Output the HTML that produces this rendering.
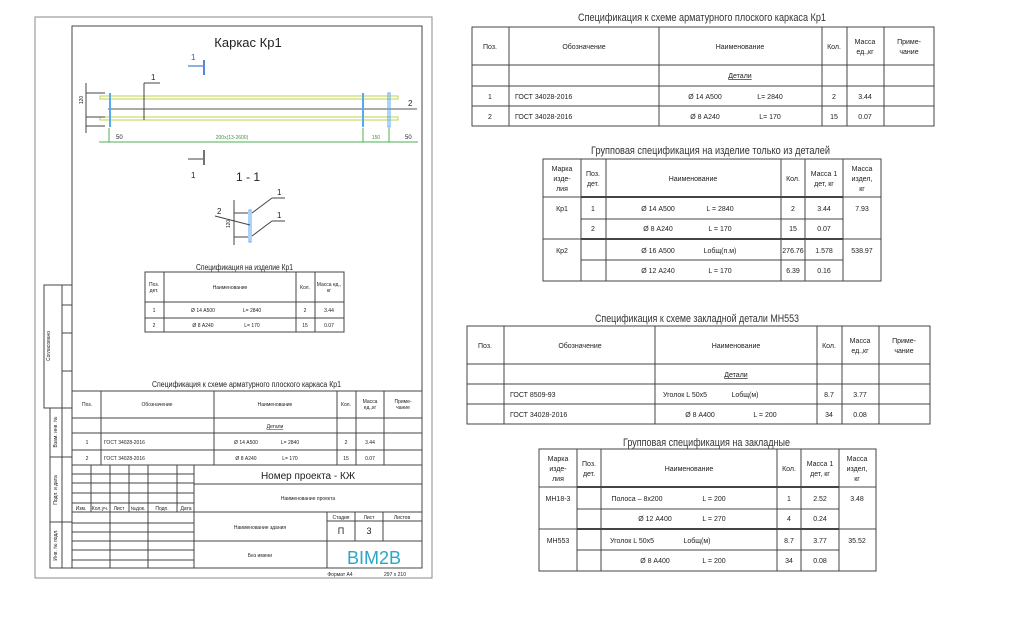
<!DOCTYPE html>
<html><head><meta charset="utf-8"><style>
html,body{margin:0;padding:0;background:#fff;}
svg{display:block;}
text{font-family:"Liberation Sans",sans-serif;fill:#222;}
.t{font-size:7px;text-anchor:middle;}
.s{font-size:5px;text-anchor:middle;}
.l{font-size:7px;}
.h{font-size:11px;text-anchor:middle;fill:#333;}
line,rect{stroke:#444;stroke-width:1;fill:none;}
.g{stroke:#8a8a8a;}
</style></head><body>
<svg width="1024" height="621" viewBox="0 0 1024 621">
<!-- sheet -->
<rect x="35" y="17" width="397" height="561" class="g"/>
<rect x="72" y="26" width="350" height="542"/>
<text x="248" y="47" style="font-size:13px;text-anchor:middle">Каркас Кр1</text>
<!-- section marks -->
<line x1="204" y1="60" x2="204" y2="75" style="stroke:#1a5fd0;stroke-width:1.5"/>
<line x1="188" y1="66" x2="203" y2="66" style="stroke:#1a5fd0"/>
<text x="191" y="60" style="font-size:8px;fill:#1a5fd0">1</text>
<line x1="204" y1="150" x2="204" y2="165" style="stroke-width:1.5"/>
<line x1="188" y1="159" x2="203" y2="159"/>
<text x="191" y="178" style="font-size:8px">1</text>
<!-- bars -->
<rect x="100" y="96" width="298" height="3" style="stroke:#b8d44a"/>
<rect x="100" y="117" width="298" height="3" style="stroke:#b8d44a"/>
<line x1="108" y1="109" x2="417" y2="109" style="stroke:#555"/>
<line x1="110" y1="93" x2="110" y2="127" style="stroke:#5aa8f0;stroke-width:2"/>
<line x1="363" y1="93" x2="363" y2="127" style="stroke:#5aa8f0;stroke-width:2"/>
<rect x="388" y="93" width="2" height="34" style="stroke:#5aa8f0"/>
<line x1="144" y1="83" x2="144" y2="120"/>
<line x1="144" y1="83" x2="160" y2="83"/>
<text x="151" y="80" style="font-size:8px">1</text>
<text x="408" y="106" style="font-size:8px">2</text>
<line x1="99" y1="142" x2="418" y2="142" style="stroke:#4caf50"/>
<line x1="109" y1="128" x2="109" y2="142" style="stroke:#4caf50"/>
<line x1="363" y1="128" x2="363" y2="142" style="stroke:#4caf50"/>
<line x1="389" y1="128" x2="389" y2="142" style="stroke:#4caf50"/>
<text x="116" y="139" style="font-size:6px">50</text>
<text x="232" y="139" style="font-size:5px;fill:#3a9a3a;text-anchor:middle">200х(13-2600)</text>
<text x="376" y="139" style="font-size:5px;fill:#3a9a3a;text-anchor:middle">150</text>
<text x="405" y="139" style="font-size:6px">50</text>
<line x1="86" y1="83" x2="86" y2="133"/>
<text x="83" y="100" class="s" transform="rotate(-90 83 100)">120</text>
<line x1="86" y1="93" x2="105" y2="93"/><line x1="86" y1="117" x2="105" y2="117"/><line x1="86" y1="126" x2="105" y2="126"/>
<text x="248" y="181" style="font-size:12px;text-anchor:middle">1 - 1</text>
<!-- section detail -->
<rect x="249" y="210" width="2" height="32" style="stroke:#5aa8f0"/>
<line x1="234" y1="200" x2="234" y2="245"/>
<line x1="234" y1="213" x2="248" y2="213"/><line x1="234" y1="237" x2="248" y2="237"/>
<line x1="252" y1="213" x2="272" y2="198"/><line x1="272" y1="198" x2="285" y2="198"/>
<line x1="252" y1="236" x2="272" y2="221"/><line x1="272" y1="221" x2="285" y2="221"/>
<line x1="215" y1="216" x2="250" y2="225"/>
<text x="277" y="195" style="font-size:8px">1</text><text x="277" y="218" style="font-size:8px">1</text><text x="217" y="214" style="font-size:8px">2</text>
<text x="230" y="224" class="s" transform="rotate(-90 230 224)">120</text>
<!-- spec Kp1 small -->
<text x="196" y="270" style="font-size:8px" textLength="97" lengthAdjust="spacingAndGlyphs">Спецификация на изделие Кр1</text>
<rect x="145" y="272" width="199" height="60"/>
<line x1="145" y1="302" x2="344" y2="302"/><line x1="145" y1="318" x2="344" y2="318"/>
<line x1="164" y1="272" x2="164" y2="332"/><line x1="296" y1="272" x2="296" y2="332"/><line x1="315" y1="272" x2="315" y2="332"/>
<text x="154" y="286" class="s">Поз.</text><text x="154" y="292" class="s">дет.</text>
<text x="230" y="289" class="s">Наименование</text><text x="305" y="289" class="s">Кол.</text>
<text x="329" y="286" class="s">Масса ед.,</text><text x="329" y="292" class="s">кг</text>
<text x="154" y="312" class="s">1</text><text x="203" y="312" class="s">Ø 14 А500</text><text x="252" y="312" class="s">L= 2840</text><text x="305" y="312" class="s">2</text><text x="329" y="312" class="s">3.44</text>
<text x="154" y="327" class="s">2</text><text x="203" y="327" class="s">Ø 8 А240</text><text x="252" y="327" class="s">L= 170</text><text x="305" y="327" class="s">15</text><text x="329" y="327" class="s">0.07</text>
<!-- bottom spec -->
<text x="152" y="387" style="font-size:8px" textLength="189" lengthAdjust="spacingAndGlyphs">Спецификация к схеме арматурного плоского каркаса Кр1</text>
<rect x="72" y="391" width="350" height="74"/>
<line x1="72" y1="418" x2="422" y2="418"/><line x1="72" y1="433" x2="422" y2="433"/><line x1="72" y1="450" x2="422" y2="450"/>
<line x1="101" y1="391" x2="101" y2="465"/><line x1="214" y1="391" x2="214" y2="465"/><line x1="337" y1="391" x2="337" y2="465"/><line x1="356" y1="391" x2="356" y2="465"/><line x1="384" y1="391" x2="384" y2="465"/>
<text x="87" y="406" class="s">Поз.</text><text x="157" y="406" class="s">Обозначение</text><text x="275" y="406" class="s">Наименование</text><text x="346" y="406" class="s">Кол.</text><text x="370" y="403" class="s">Масса</text><text x="370" y="409" class="s">ед.,кг</text><text x="403" y="403" class="s">Приме-</text><text x="403" y="409" class="s">чание</text>
<text x="275" y="428" class="s" style="text-decoration:underline">Детали</text>
<text x="87" y="444" class="s">1</text><text x="104" y="444" style="font-size:5px">ГОСТ 34028-2016</text><text x="246" y="444" class="s">Ø 14 А500</text><text x="290" y="444" class="s">L= 2840</text><text x="346" y="444" class="s">2</text><text x="370" y="444" class="s">3.44</text>
<text x="87" y="460" class="s">2</text><text x="104" y="460" style="font-size:5px">ГОСТ 34028-2016</text><text x="246" y="460" class="s">Ø 8 А240</text><text x="290" y="460" class="s">L= 170</text><text x="346" y="460" class="s">15</text><text x="370" y="460" class="s">0.07</text>
<!-- title block -->
<line x1="72" y1="465" x2="422" y2="465"/>
<line x1="91" y1="465" x2="91" y2="512"/><line x1="110" y1="465" x2="110" y2="568"/><line x1="129" y1="465" x2="129" y2="512"/><line x1="148" y1="465" x2="148" y2="568"/><line x1="177" y1="465" x2="177" y2="512"/><line x1="194" y1="465" x2="194" y2="568"/>
<line x1="72" y1="474" x2="194" y2="474"/><line x1="72" y1="483" x2="194" y2="483"/><line x1="72" y1="493" x2="194" y2="493"/><line x1="72" y1="503" x2="194" y2="503"/><line x1="72" y1="512" x2="422" y2="512"/><line x1="72" y1="523" x2="194" y2="523"/><line x1="72" y1="532" x2="194" y2="532"/><line x1="72" y1="541" x2="422" y2="541"/><line x1="72" y1="550" x2="194" y2="550"/><line x1="72" y1="560" x2="194" y2="560"/>
<line x1="194" y1="484" x2="422" y2="484"/>
<line x1="327" y1="512" x2="327" y2="568"/><line x1="355" y1="512" x2="355" y2="541"/><line x1="383" y1="512" x2="383" y2="541"/><line x1="327" y1="521" x2="422" y2="521"/>
<text x="81" y="510" class="s">Изм.</text><text x="100" y="510" class="s">Кол.уч.</text><text x="119" y="510" class="s">Лист</text><text x="138" y="510" class="s">№док.</text><text x="162" y="510" class="s">Подп.</text><text x="186" y="510" class="s">Дата</text>
<text x="308" y="479" style="font-size:10px;text-anchor:middle">Номер проекта - КЖ</text>
<text x="308" y="500" class="s">Наименование проекта</text>
<text x="260" y="529" class="s">Наименование здания</text>
<text x="260" y="557" class="s">Без имени</text>
<text x="341" y="519" class="s">Стадия</text><text x="369" y="519" class="s">Лист</text><text x="402" y="519" class="s">Листов</text>
<text x="341" y="534" style="font-size:9px;text-anchor:middle">П</text><text x="369" y="534" style="font-size:9px;text-anchor:middle">3</text>
<text x="374" y="564" style="font-size:18px;text-anchor:middle;fill:#2aa6c8">BIM2B</text>
<text x="340" y="576" class="s">Формат А4</text><text x="395" y="576" class="s">297 x 210</text>
<!-- left strips -->
<rect x="44" y="285" width="28" height="123"/>
<line x1="62" y1="285" x2="62" y2="408"/>
<line x1="62" y1="305" x2="72" y2="305"/><line x1="62" y1="333" x2="72" y2="333"/><line x1="62" y1="371" x2="72" y2="371"/>
<text x="50" y="346" class="s" transform="rotate(-90 50 346)">Согласовано</text>
<rect x="50" y="408" width="22" height="160"/>
<line x1="62" y1="408" x2="62" y2="568"/>
<line x1="50" y1="457" x2="72" y2="457"/><line x1="50" y1="522" x2="72" y2="522"/>
<text x="57" y="432" class="s" transform="rotate(-90 57 432)">Взам. инв. №</text>
<text x="57" y="490" class="s" transform="rotate(-90 57 490)">Подп. и дата</text>
<text x="57" y="545" class="s" transform="rotate(-90 57 545)">Инв. № подл.</text>

<!-- Table A -->
<text x="578" y="21" style="font-size:11px;fill:#333" textLength="248" lengthAdjust="spacingAndGlyphs">Спецификация к схеме арматурного плоского каркаса Кр1</text>
<rect x="472" y="27" width="462" height="99"/>
<line x1="472" y1="65" x2="934" y2="65"/><line x1="472" y1="86" x2="934" y2="86"/><line x1="472" y1="106" x2="934" y2="106"/>
<line x1="509" y1="27" x2="509" y2="126"/><line x1="659" y1="27" x2="659" y2="126"/><line x1="822" y1="27" x2="822" y2="126"/><line x1="847" y1="27" x2="847" y2="126"/><line x1="884" y1="27" x2="884" y2="126"/>
<text x="490" y="49" class="t">Поз.</text><text x="584" y="49" class="t">Обозначение</text><text x="740" y="49" class="t">Наименование</text><text x="834" y="49" class="t">Кол.</text><text x="865" y="44" class="t">Масса</text><text x="865" y="54" class="t">ед.,кг</text><text x="909" y="44" class="t">Приме-</text><text x="909" y="54" class="t">чание</text>
<text x="740" y="78" class="t" style="text-decoration:underline">Детали</text>
<text x="490" y="99" class="t">1</text><text x="515" y="99" class="l">ГОСТ 34028-2016</text><text x="705" y="99" class="t">Ø 14 А500</text><text x="770" y="99" class="t">L= 2840</text><text x="834" y="99" class="t">2</text><text x="865" y="99" class="t">3.44</text>
<text x="490" y="119" class="t">2</text><text x="515" y="119" class="l">ГОСТ 34028-2016</text><text x="705" y="119" class="t">Ø 8 А240</text><text x="770" y="119" class="t">L= 170</text><text x="834" y="119" class="t">15</text><text x="865" y="119" class="t">0.07</text>

<!-- Table B -->
<text x="591" y="154" style="font-size:11px;fill:#333" textLength="239" lengthAdjust="spacingAndGlyphs">Групповая спецификация на изделие только из деталей</text>
<rect x="543" y="159" width="338" height="122"/>
<line x1="543" y1="197" x2="881" y2="197"/><line x1="543" y1="239" x2="881" y2="239"/>
<line x1="581" y1="197" x2="843" y2="197" style="stroke-width:2"/><line x1="581" y1="239" x2="843" y2="239" style="stroke-width:2"/>
<line x1="581" y1="219" x2="843" y2="219"/><line x1="581" y1="260" x2="843" y2="260"/>
<line x1="581" y1="159" x2="581" y2="281"/><line x1="606" y1="159" x2="606" y2="281"/><line x1="781" y1="159" x2="781" y2="281"/><line x1="805" y1="159" x2="805" y2="281"/><line x1="843" y1="159" x2="843" y2="281"/>
<text x="562" y="171" class="t">Марка</text><text x="562" y="181" class="t">изде-</text><text x="562" y="191" class="t">лия</text>
<text x="593" y="176" class="t">Поз.</text><text x="593" y="186" class="t">дет.</text>
<text x="693" y="181" class="t">Наименование</text><text x="793" y="181" class="t">Кол.</text>
<text x="824" y="176" class="t">Масса 1</text><text x="824" y="186" class="t">дет, кг</text>
<text x="862" y="171" class="t">Масса</text><text x="862" y="181" class="t">издел,</text><text x="862" y="191" class="t">кг</text>
<text x="562" y="211" class="t">Кр1</text><text x="593" y="211" class="t">1</text><text x="658" y="211" class="t">Ø 14 А500</text><text x="720" y="211" class="t">L =  2840</text><text x="793" y="211" class="t">2</text><text x="824" y="211" class="t">3.44</text><text x="862" y="211" class="t">7.93</text>
<text x="593" y="231" class="t">2</text><text x="658" y="231" class="t">Ø 8 А240</text><text x="720" y="231" class="t">L =  170</text><text x="793" y="231" class="t">15</text><text x="824" y="231" class="t">0.07</text>
<text x="562" y="253" class="t">Кр2</text><text x="658" y="253" class="t">Ø 16 А500</text><text x="720" y="253" class="t">Lобщ(п.м)</text><text x="793" y="253" class="t">276.76</text><text x="824" y="253" class="t">1.578</text><text x="862" y="253" class="t">538.97</text>
<text x="658" y="273" class="t">Ø 12 А240</text><text x="720" y="273" class="t">L =  170</text><text x="793" y="273" class="t">6.39</text><text x="824" y="273" class="t">0.16</text>

<!-- Table C -->
<text x="595" y="322" style="font-size:11px;fill:#333" textLength="204" lengthAdjust="spacingAndGlyphs">Спецификация к схеме закладной детали МН553</text>
<rect x="467" y="326" width="463" height="98"/>
<line x1="467" y1="364" x2="930" y2="364"/><line x1="467" y1="384" x2="930" y2="384"/><line x1="467" y1="404" x2="930" y2="404"/>
<line x1="504" y1="326" x2="504" y2="424"/><line x1="655" y1="326" x2="655" y2="424"/><line x1="817" y1="326" x2="817" y2="424"/><line x1="842" y1="326" x2="842" y2="424"/><line x1="879" y1="326" x2="879" y2="424"/>
<text x="485" y="348" class="t">Поз.</text><text x="580" y="348" class="t">Обозначение</text><text x="736" y="348" class="t">Наименование</text><text x="829" y="348" class="t">Кол.</text><text x="860" y="343" class="t">Масса</text><text x="860" y="353" class="t">ед.,кг</text><text x="904" y="343" class="t">Приме-</text><text x="904" y="353" class="t">чание</text>
<text x="736" y="377" class="t" style="text-decoration:underline">Детали</text>
<text x="510" y="397" class="l">ГОСТ 8509-93</text><text x="685" y="397" class="t">Уголок  L  50х5</text><text x="745" y="397" class="t">Lобщ(м)</text><text x="829" y="397" class="t">8.7</text><text x="860" y="397" class="t">3.77</text>
<text x="510" y="417" class="l">ГОСТ 34028-2016</text><text x="700" y="417" class="t">Ø 8 А400</text><text x="765" y="417" class="t">L =  200</text><text x="829" y="417" class="t">34</text><text x="860" y="417" class="t">0.08</text>

<!-- Table D -->
<text x="623" y="446" style="font-size:11px;fill:#333" textLength="167" lengthAdjust="spacingAndGlyphs">Групповая спецификация на закладные</text>
<rect x="539" y="449" width="337" height="122"/>
<line x1="539" y1="487" x2="876" y2="487"/><line x1="539" y1="529" x2="876" y2="529"/>
<line x1="577" y1="487" x2="839" y2="487" style="stroke-width:2"/><line x1="577" y1="529" x2="839" y2="529" style="stroke-width:2"/>
<line x1="577" y1="509" x2="839" y2="509"/><line x1="577" y1="550" x2="839" y2="550"/>
<line x1="577" y1="449" x2="577" y2="571"/><line x1="601" y1="449" x2="601" y2="571"/><line x1="777" y1="449" x2="777" y2="571"/><line x1="801" y1="449" x2="801" y2="571"/><line x1="839" y1="449" x2="839" y2="571"/>
<text x="558" y="461" class="t">Марка</text><text x="558" y="471" class="t">изде-</text><text x="558" y="481" class="t">лия</text>
<text x="589" y="466" class="t">Поз.</text><text x="589" y="476" class="t">дет.</text>
<text x="689" y="471" class="t">Наименование</text><text x="789" y="471" class="t">Кол.</text>
<text x="820" y="466" class="t">Масса 1</text><text x="820" y="476" class="t">дет, кг</text>
<text x="857" y="461" class="t">Масса</text><text x="857" y="471" class="t">издел,</text><text x="857" y="481" class="t">кг</text>
<text x="558" y="501" class="t">МН18-3</text><text x="637" y="501" class="t">Полоса  –  8х200</text><text x="714" y="501" class="t">L =  200</text><text x="789" y="501" class="t">1</text><text x="820" y="501" class="t">2.52</text><text x="857" y="501" class="t">3.48</text>
<text x="655" y="521" class="t">Ø 12 А400</text><text x="714" y="521" class="t">L =  270</text><text x="789" y="521" class="t">4</text><text x="820" y="521" class="t">0.24</text>
<text x="558" y="543" class="t">МН553</text><text x="632" y="543" class="t">Уголок  L  50х5</text><text x="697" y="543" class="t">Lобщ(м)</text><text x="789" y="543" class="t">8.7</text><text x="820" y="543" class="t">3.77</text><text x="857" y="543" class="t">35.52</text>
<text x="655" y="563" class="t">Ø 8 А400</text><text x="714" y="563" class="t">L =  200</text><text x="789" y="563" class="t">34</text><text x="820" y="563" class="t">0.08</text>
</svg>
</body></html>
